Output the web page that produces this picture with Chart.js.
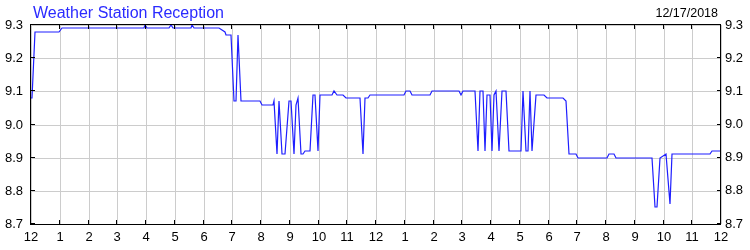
<!DOCTYPE html>
<html>
<head>
<meta charset="utf-8">
<script src="https://cdn.jsdelivr.net/npm/chart.js@4/dist/chart.umd.min.js"></script>
<style>
  body { margin: 0; background: #fff; }
  #wrap { width: 750px; height: 250px; }
</style>
</head>
<body>
<div id="wrap"><canvas id="myChart" width="750" height="250"></canvas></div>
<script>
const chartTitle = "Weather Station Reception";
const chartDate = "12/17/2018";

// hours since midnight
const times = [
  0, 0.05, 0.14, 0.98, 1.08, 3.92, 3.98, 4.03, 4.79, 4.86,
  4.93, 5.56, 5.61, 5.66, 6.53, 6.74, 6.79, 6.94, 7.05, 7.12,
  7.20, 7.29, 7.95, 8.02, 8.40, 8.46, 8.54, 8.62, 8.72, 8.85,
  8.97, 9.05, 9.14, 9.20, 9.28, 9.38, 9.46, 9.54, 9.69, 9.80,
  9.87, 9.98, 10.05, 10.48, 10.55, 10.64, 10.84, 10.94, 11.46, 11.54,
  11.63, 11.71, 11.80, 12.98, 13.04, 13.19, 13.26, 13.89, 13.96, 14.90,
  14.95, 15.02, 15.45, 15.55, 15.62, 15.71, 15.79, 15.87, 15.95, 16.02,
  16.09, 16.17, 16.27, 16.37, 16.53, 16.61, 17.04, 17.13, 17.20, 17.28,
  17.37, 17.44, 17.56, 17.86, 17.94, 18.52, 18.60, 18.71, 18.95, 19.04,
  20.04, 20.10, 20.28, 20.35, 21.60, 21.69, 21.77, 21.87, 22.08, 22.21,
  22.28, 23.61, 23.68, 24
];
const reception = [
  9.08, 9.08, 9.28, 9.28, 9.29, 9.29, 9.30, 9.29, 9.29, 9.30,
  9.29, 9.29, 9.30, 9.29, 9.29, 9.28, 9.27, 9.27, 9.07, 9.07,
  9.27, 9.07, 9.07, 9.06, 9.06, 9.07, 8.91, 9.07, 8.91, 8.91,
  9.07, 9.07, 8.91, 9.06, 9.08, 8.91, 8.91, 8.92, 8.92, 9.09,
  9.09, 8.92, 9.09, 9.09, 9.10, 9.09, 9.09, 9.08, 9.08, 8.91,
  9.08, 9.08, 9.09, 9.09, 9.10, 9.10, 9.09, 9.09, 9.10, 9.10,
  9.09, 9.10, 9.10, 8.92, 9.10, 9.10, 8.92, 9.09, 9.09, 8.92,
  9.09, 9.10, 8.92, 9.10, 9.10, 8.92, 8.92, 9.10, 8.92, 8.92,
  9.10, 8.92, 9.09, 9.09, 9.08, 9.08, 9.07, 8.91, 8.91, 8.90,
  8.90, 8.91, 8.91, 8.90, 8.90, 8.75, 8.75, 8.90, 8.91, 8.76,
  8.91, 8.91, 8.92, 8.92
];
const hourLabels = ["12", "1", "2", "3", "4", "5", "6", "7", "8", "9", "10", "11",
  "12", "1", "2", "3", "4", "5", "6", "7", "8", "9", "10", "11", "12"];
const yMin = 8.7;
const yMax = 9.3;

const font = "'Liberation Sans', Arial, sans-serif";

// frame, inward tick marks, title and date
const framePlugin = {
  id: "frame",
  afterDatasetsDraw(chart) {
    const { ctx, chartArea: a, scales } = chart;
    ctx.save();
    ctx.strokeStyle = "#000";
    ctx.lineWidth = 1;
    ctx.strokeRect(a.left - 0.5, a.top - 0.5, a.right - a.left, a.bottom - a.top + 1);
    ctx.beginPath();
    scales.x.ticks.forEach((t) => {
      const px = Math.round(scales.x.getPixelForValue(t.value)) - 0.5;
      ctx.moveTo(px, a.bottom); ctx.lineTo(px, a.bottom - 4);
      ctx.moveTo(px, a.top); ctx.lineTo(px, a.top + 4);
    });
    scales.y.ticks.forEach((t) => {
      const py = Math.round(scales.y.getPixelForValue(t.value)) - 0.5;
      ctx.moveTo(a.left, py); ctx.lineTo(a.left + 4, py);
      ctx.moveTo(a.right, py); ctx.lineTo(a.right - 4, py);
    });
    ctx.stroke();
    ctx.restore();
  },
  afterDraw(chart) {
    const { ctx, chartArea: a } = chart;
    ctx.save();
    ctx.textBaseline = "alphabetic";
    ctx.font = "16px " + font;
    ctx.fillStyle = "#2a2aff";
    ctx.textAlign = "left";
    ctx.fillText(chartTitle, a.left + 2, 18);
    ctx.font = "12.5px " + font;
    ctx.fillStyle = "#000";
    ctx.textAlign = "right";
    ctx.fillText(chartDate, a.right - 3, 17);
    ctx.restore();
  }
};

const data = {
  datasets: [{
    label: chartTitle,
    data: times.map((t, i) => ({ x: t, y: reception[i] })),
    borderColor: "rgb(30, 30, 255)",
    borderWidth: 1.2,
    pointRadius: 0,
    tension: 0,
    fill: false
  }]
};

const tickFont = { family: font, size: 13 };

const config = {
  type: "line",
  data,
  plugins: [framePlugin],
  options: {
    responsive: false,
    animation: false,
    layout: { padding: { top: 25 } },
    plugins: {
      legend: { display: false },
      tooltip: { enabled: false }
    },
    scales: {
      x: {
        type: "linear",
        min: 0,
        max: 24,
        alignToPixels: true,
        afterFit: (s) => { s.height = 26; },
        grid: { color: "#cccccc", drawTicks: false },
        border: { display: false },
        ticks: {
          stepSize: 1,
          padding: 6,
          color: "#000",
          font: tickFont,
          maxRotation: 0,
          autoSkip: false,
          callback: (v) => hourLabels[v]
        }
      },
      y: {
        position: "left",
        min: yMin,
        max: yMax,
        alignToPixels: true,
        afterFit: (s) => { s.width = 31; },
        grid: { color: "#cccccc", drawTicks: false },
        border: { display: false },
        ticks: {
          stepSize: 0.1,
          padding: 8,
          color: "#000",
          font: tickFont,
          callback: (v) => Number(v).toFixed(1)
        }
      },
      y2: {
        position: "right",
        min: yMin,
        max: yMax,
        afterFit: (s) => { s.width = 29; },
        grid: { display: false, drawTicks: false },
        border: { display: false },
        ticks: {
          stepSize: 0.1,
          padding: 4,
          color: "#000",
          font: tickFont,
          callback: (v) => Number(v).toFixed(1)
        }
      }
    }
  }
};

new Chart(document.getElementById("myChart"), config);
</script>
</body>
</html>
